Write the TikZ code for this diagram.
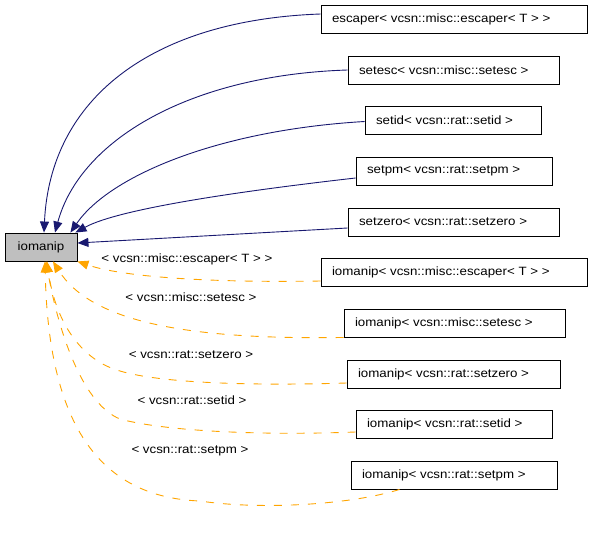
\documentclass[tikz,border=0pt]{standalone}
\usepackage{fontspec}
\setmainfont{Liberation Sans}[FakeStretch=1.11]
\usetikzlibrary{arrows.meta}
\definecolor{navyedge}{HTML}{191970}
\definecolor{orangeedge}{HTML}{FFA500}
\definecolor{basefill}{HTML}{BFBFBF}
\tikzset{
  box/.style={draw=black, line width=0.9pt, fill=white, minimum height=28pt, inner xsep=0pt, inner ysep=0pt, font=\fontsize{12}{14}\selectfont},
  basebox/.style={box, fill=basefill, minimum width=72pt},
  lbl/.style={inner sep=0pt, font=\fontsize{12}{14}\selectfont},
  inh/.style={navyedge, line width=0.9pt, -{Triangle[length=11pt,width=9pt]}},
  tmpl/.style={orangeedge, line width=0.9pt, dash pattern=on 8pt off 9pt, -{Triangle[length=11pt,width=9pt]}},
}
\begin{document}
\begin{tikzpicture}[x=1pt,y=-1pt]
\useasboundingbox (0,0) rectangle (592,533);
% nodes
\node[basebox] (iom) at (41,247) {iomanip};
\node[box] (e1) at (454,19) {\makebox[266pt][l]{\hspace{11pt}escaper< vcsn::misc::escaper< T > >}};
\node[box] (e2) at (453.5,70) {\makebox[211pt][l]{\hspace{11pt}setesc< vcsn::misc::setesc >}};
\node[box] (e3) at (453,120.5) {\makebox[176pt][l]{\hspace{11pt}setid< vcsn::rat::setid >}};
\node[box] (e4) at (454,171) {\makebox[196pt][l]{\hspace{11pt}setpm< vcsn::rat::setpm >}};
\node[box] (e5) at (453.5,222) {\makebox[211pt][l]{\hspace{11pt}setzero< vcsn::rat::setzero >}};
\node[box] (o1) at (454,272) {\makebox[266pt][l]{\hspace{11pt}iomanip< vcsn::misc::escaper< T > >}};
\node[box] (o2) at (454.5,323) {\makebox[221pt][l]{\hspace{11pt}iomanip< vcsn::misc::setesc >}};
\node[box] (o3) at (453.5,374) {\makebox[213pt][l]{\hspace{11pt}iomanip< vcsn::rat::setzero >}};
\node[box] (o4) at (454,424) {\makebox[196pt][l]{\hspace{11pt}iomanip< vcsn::rat::setid >}};
\node[box] (o5) at (454,475) {\makebox[206pt][l]{\hspace{11pt}iomanip< vcsn::rat::setpm >}};
% labels
\node[lbl] (l1) at (187,259) {< vcsn::misc::escaper< T > >};
\node[lbl] (l2) at (191,297) {< vcsn::misc::setesc >};
\node[lbl] (l3) at (191,355) {< vcsn::rat::setzero >};
\node[lbl] (l4) at (192,400) {< vcsn::rat::setid >};
\node[lbl] (l5) at (190,451) {< vcsn::rat::setpm >};
% inheritance edges
\draw[inh] ([yshift=5pt]e1.west) .. controls (150,20) and (50,100) .. ([xshift=3pt]iom.north);
\draw[inh] (e2.west) .. controls (190,75) and (80,140) .. ([xshift=14pt]iom.north);
\draw[inh] ([yshift=-1pt]e3.west) .. controls (220,130) and (110,175) .. ([xshift=-7pt]iom.north east);
\draw[inh] ([yshift=-7pt]e4.west) .. controls (250,190) and (120,208) .. ([xshift=-2pt]iom.north east);
\draw[inh] ([yshift=-6pt]e5.west) -- ([yshift=4pt]iom.east);
% template edges
\draw[tmpl] ([yshift=-9pt]o1.west) .. controls (200,283) and (120,276) .. (iom.south east);
\draw[tmpl] (o2.south west) .. controls (180,340) and (90,320) .. ([xshift=12pt]iom.south);
\draw[tmpl] ([yshift=-9pt]o3.west) .. controls (250,386) and (160,383) .. (120,371) .. controls (80,360) and (55,320) .. ([xshift=6pt]iom.south);
\draw[tmpl] ([yshift=-8pt]o4.west) .. controls (250,436) and (160,430) .. (120,419) .. controls (85,405) and (60,340) .. ([xshift=5pt]iom.south);
\draw[tmpl] ([xshift=49pt]o5.south west) .. controls (350,505) and (260,510) .. (200,501) .. controls (90,497) and (48,410) .. ([xshift=4pt]iom.south);
\end{tikzpicture}
\end{document}
